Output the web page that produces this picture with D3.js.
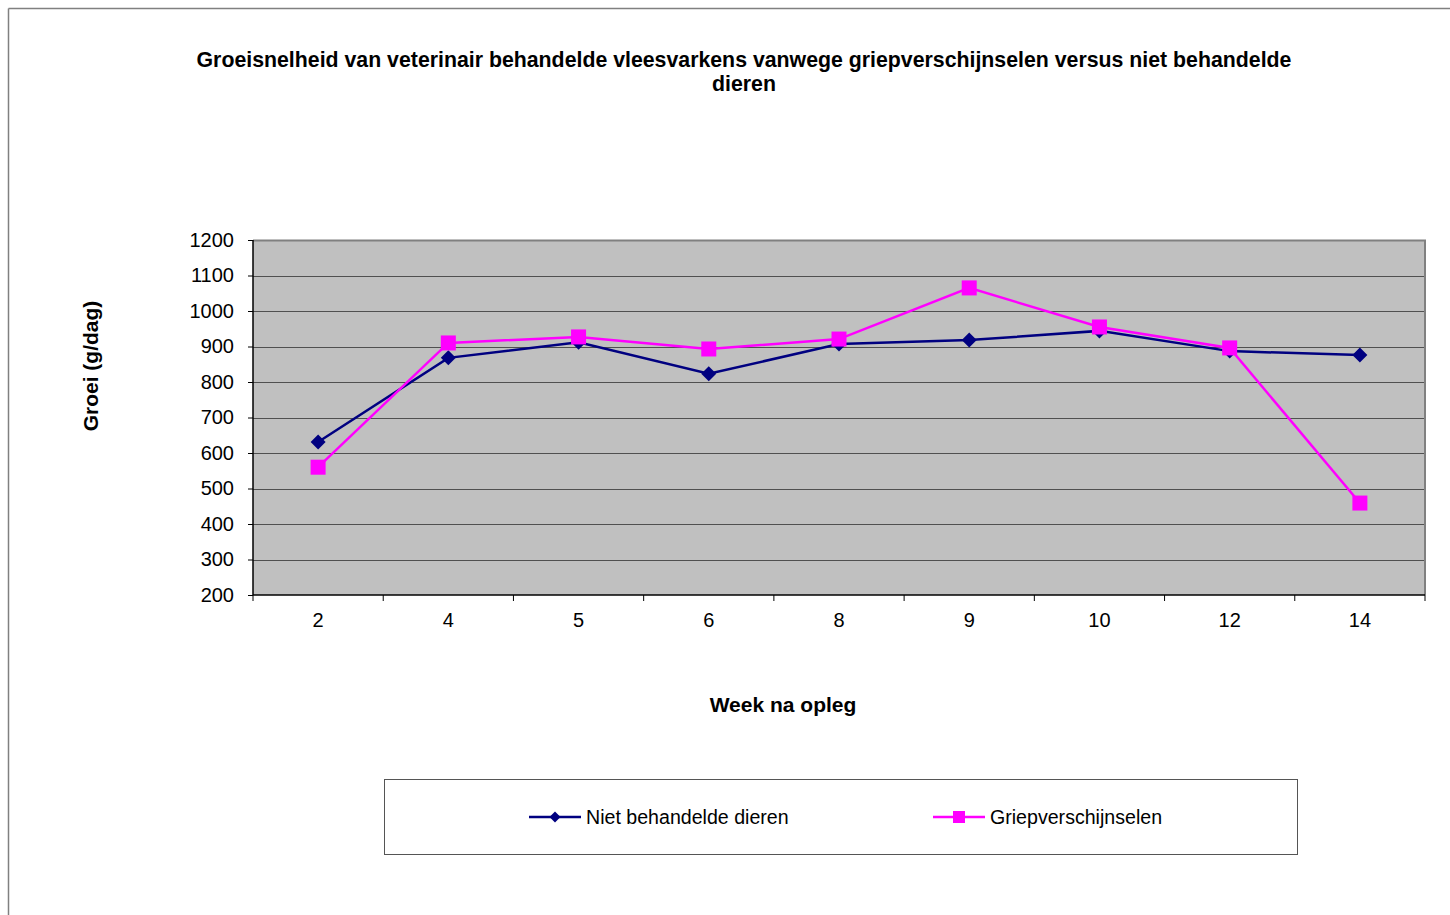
<!DOCTYPE html>
<html><head><meta charset="utf-8">
<script src="https://cdn.jsdelivr.net/npm/d3@7"></script>
<style>html,body{margin:0;padding:0;background:#fff;}svg{display:block;}text{font-family:"Liberation Sans",Arial,sans-serif;}</style>
</head><body>
<script>
const weeks = ["2","4","5","6","8","9","10","12","14"];
const nietBehandeld = [631, 868, 912, 823, 907, 918, 944, 887, 876];
const griep = [560, 910, 927, 893, 921, 1065, 955, 896, 459];
const yTicks = [200,300,400,500,600,700,800,900,1000,1100,1200];
const seriesNames = ["Niet behandelde dieren","Griepverschijnselen"];
const titleLines = ["Groeisnelheid van veterinair behandelde vleesvarkens vanwege griepverschijnselen versus niet behandelde","dieren"];

const W=1450,H=915;
const svg=d3.select("body").append("svg").attr("width",W).attr("height",H);
svg.append("line").attr("x1",8.5).attr("x2",W).attr("y1",8.5).attr("y2",8.5).attr("stroke","#808080").attr("stroke-width",1.5);
svg.append("line").attr("x1",8.5).attr("x2",8.5).attr("y1",8.5).attr("y2",H).attr("stroke","#808080").attr("stroke-width",1.5);

const L=253,R=1425,T=240,B=595;
const x=d3.scaleBand().domain(weeks).range([L,R]);
const y=d3.scaleLinear().domain([200,1200]).range([B,T]);

svg.append("rect").attr("x",L).attr("y",T).attr("width",R-L).attr("height",B-T).attr("fill","#c0c0c0");
svg.append("g").selectAll("line").data(yTicks.filter(d=>d>200&&d<1200)).join("line")
  .attr("x1",L).attr("x2",R).attr("y1",d=>Math.round(y(d))+0.5).attr("y2",d=>Math.round(y(d))+0.5)
  .attr("stroke","#505050").attr("stroke-width",1);
svg.append("path").attr("d",`M${L},${T+0.5}H${R}V${B}`).attr("fill","none").attr("stroke","#808080").attr("stroke-width",2);

const yAxis=d3.axisLeft(y).tickValues(yTicks).tickFormat(d3.format("d")).tickSize(5).tickPadding(14);
const gy=svg.append("g").attr("transform",`translate(${L},0)`).call(yAxis);
gy.select(".domain").attr("stroke","#000").attr("stroke-width",1.5).attr("d",`M0,${T}V${B}`);
gy.selectAll(".tick line").attr("stroke","#000");
gy.selectAll("text").attr("font-size",20).attr("fill","#000").attr("font-family","Liberation Sans, Arial, sans-serif");

const xAxis=d3.axisBottom(x).tickSize(0).tickPadding(18);
const gx=svg.append("g").attr("transform",`translate(0,${B})`).call(xAxis);
gx.select(".domain").attr("stroke","#000").attr("stroke-width",1.5).attr("d",`M${L},0H${R}`);
gx.selectAll("text").attr("font-size",20).attr("fill","#000").attr("font-family","Liberation Sans, Arial, sans-serif");
const bounds=weeks.map(w=>x(w)).concat([R]);
svg.append("g").selectAll("line").data(bounds).join("line")
  .attr("x1",d=>d).attr("x2",d=>d).attr("y1",B).attr("y2",B+6).attr("stroke","#000").attr("stroke-width",1);

const cx=w=>x(w)+x.bandwidth()/2;
const line=d3.line().x((d,i)=>cx(weeks[i])).y(d=>y(d));
const diamondPath=r=>`M0,${-r}L${r},0L0,${r}L${-r},0Z`;

function drawSeries(vals,color,marker){
  svg.append("path").datum(vals).attr("d",line).attr("fill","none").attr("stroke",color).attr("stroke-width",2.5);
  const g=svg.append("g");
  vals.forEach((v,i)=>{
    if(marker==="diamond"){
      g.append("path").attr("d",diamondPath(7.5)).attr("transform",`translate(${cx(weeks[i])},${y(v)})`).attr("fill",color);
    } else {
      g.append("rect").attr("x",cx(weeks[i])-7.5).attr("y",y(v)-7.5).attr("width",15).attr("height",15).attr("fill",color);
    }
  });
}
drawSeries(nietBehandeld,"#000080","diamond");
drawSeries(griep,"#ff00ff","square");

svg.append("g").selectAll("text").data(titleLines).join("text")
  .attr("x",744).attr("y",(d,i)=>67+i*24).attr("text-anchor","middle")
  .attr("font-size",21.3).attr("font-weight","bold").text(d=>d);
svg.append("text").attr("transform","translate(98,366) rotate(-90)").attr("text-anchor","middle")
  .attr("font-size",21).attr("font-weight","bold").text("Groei (g/dag)");
svg.append("text").attr("x",783).attr("y",712).attr("text-anchor","middle")
  .attr("font-size",21).attr("font-weight","bold").text("Week na opleg");

svg.append("rect").attr("x",384.5).attr("y",779.5).attr("width",913).attr("height",75).attr("fill","#fff").attr("stroke","#555").attr("stroke-width",1);
const legItems=[{name:seriesNames[0],color:"#000080",m:"diamond",x0:529},{name:seriesNames[1],color:"#ff00ff",m:"square",x0:933}];
legItems.forEach(it=>{
  const ly=817;
  svg.append("line").attr("x1",it.x0).attr("x2",it.x0+52).attr("y1",ly).attr("y2",ly).attr("stroke",it.color).attr("stroke-width",2.5);
  if(it.m==="diamond") svg.append("path").attr("d",diamondPath(5.5)).attr("transform",`translate(${it.x0+26},${ly})`).attr("fill",it.color);
  else svg.append("rect").attr("x",it.x0+20).attr("y",ly-6).attr("width",12).attr("height",12).attr("fill",it.color);
  svg.append("text").attr("x",it.x0+57).attr("y",ly+7).attr("font-size",19.6).text(it.name);
});
</script>
</body></html>
